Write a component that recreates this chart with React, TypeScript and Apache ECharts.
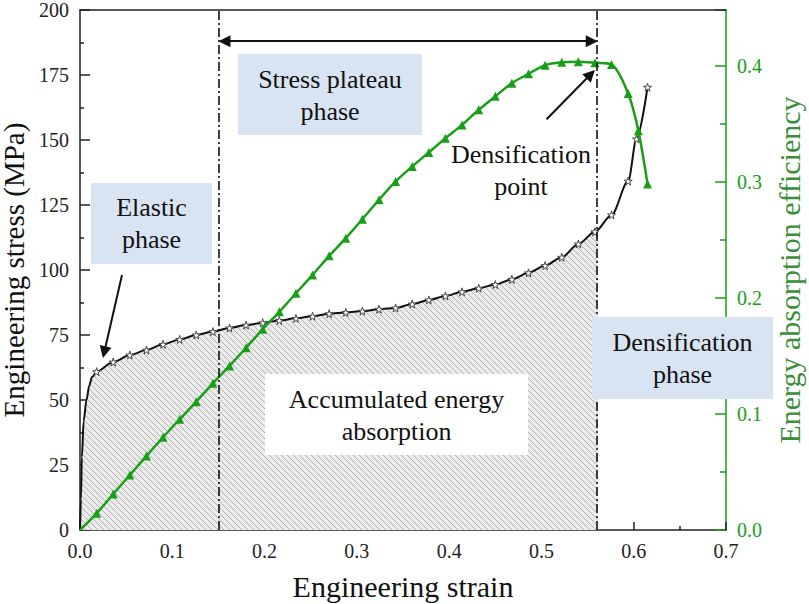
import React, { useEffect, useRef } from "react";
import * as echarts from "echarts";

// ---- data ----
// elastic part of the stress-strain curve (no markers)
const elasticStrain = [0, 0.001, 0.002, 0.004, 0.007, 0.01, 0.013];
const elasticStress = [0, 12, 28, 42, 50, 55.5, 58.8];
// marked points of the stress-strain curve
const markStrain = [
  0.018, 0.036, 0.054, 0.072, 0.09, 0.108, 0.126, 0.144, 0.162, 0.18, 0.198, 0.216, 0.234, 0.252,
  0.27, 0.288, 0.306, 0.324, 0.342, 0.36, 0.378, 0.396, 0.414, 0.432, 0.45, 0.468, 0.486, 0.504,
  0.522, 0.54, 0.558, 0.576, 0.594, 0.603, 0.615,
];
const markStress = [
  60.9, 64.6, 67.3, 69.2, 71.4, 73.3, 75.0, 76.3, 77.7, 78.8, 79.7, 80.6, 81.4, 82.2, 83.2, 83.7,
  84.2, 84.9, 85.4, 86.9, 88.5, 90.0, 91.6, 93.0, 94.4, 96.4, 98.9, 101.7, 104.9, 110.0, 114.7,
  121.2, 134.2, 150.4, 170.3,
];
// energy absorption efficiency
const effStrain = [
  0, 0.018, 0.036, 0.054, 0.072, 0.09, 0.108, 0.126, 0.144, 0.162, 0.18, 0.198, 0.216, 0.234, 0.252,
  0.27, 0.288, 0.306, 0.324, 0.342, 0.36, 0.378, 0.396, 0.414, 0.432, 0.45, 0.468, 0.486, 0.504,
  0.522, 0.54, 0.558, 0.576, 0.594, 0.605, 0.615,
];
const effValue = [
  0, 0.0144, 0.031, 0.0474, 0.0638, 0.0799, 0.0954, 0.1106, 0.1264, 0.1414, 0.157, 0.173, 0.188,
  0.204, 0.2198, 0.2362, 0.2514, 0.2678, 0.2845, 0.3003, 0.3132, 0.3253, 0.3376, 0.349, 0.362,
  0.3736, 0.385, 0.393, 0.4005, 0.403, 0.4035, 0.4025, 0.401, 0.376, 0.344, 0.298,
];
// phase boundaries
const plateauStart = 0.15;
const densificationStrain = 0.561;
const densificationStress = 115.8;
const arrowStress = 188;
const elasticArrow = [[0.0455, 98.1], [0.0263, 68.4]];
const densArrow = [[0.5056, 158], [0.5534, 175.3]];

const FONT = "Liberation Serif";
const STAR = "path://M50,0L61,35L98,35L68,57L79,91L50,70L21,91L32,57L2,35L39,35Z";
const GREEN = "#17a017";

function makeHatch(): string {
  const s = 6;
  const c = document.createElement("canvas");
  c.width = s;
  c.height = s;
  const ctx = c.getContext("2d")!;
  ctx.fillStyle = "#ebebeb";
  ctx.fillRect(0, 0, s, s);
  ctx.strokeStyle = "#b2b2b2";
  ctx.lineWidth = 1;
  ctx.beginPath();
  ctx.moveTo(-1, -1);
  ctx.lineTo(s + 1, s + 1);
  ctx.moveTo(-1, s - 1);
  ctx.lineTo(1, s + 1);
  ctx.moveTo(s - 1, -1);
  ctx.lineTo(s + 1, 1);
  ctx.stroke();
  return c.toDataURL();
}

function textEl(text: string, x: number, y: number) {
  return {
    type: "text",
    x,
    y,
    z: 101,
    style: {
      text,
      fontSize: 26,
      fontFamily: FONT,
      fill: "#111",
      align: "center",
      verticalAlign: "middle",
      textAlign: "center",
      textVerticalAlign: "middle",
      lineHeight: 32,
    },
  };
}

function boxEl(x: number, y: number, w: number, h: number, fill: string) {
  return { type: "rect", z: 100, shape: { x, y, width: w, height: h }, style: { fill } };
}

export default function App() {
  const ref = useRef<HTMLDivElement>(null);
  useEffect(() => {
    if (!ref.current) return;
    const chart = echarts.init(ref.current, null, { renderer: "svg" });

    const blackData: any[] = [];
    elasticStrain.forEach((x, i) => blackData.push({ value: [x, elasticStress[i]], symbol: "none" }));
    markStrain.forEach((x, i) => blackData.push({ value: [x, markStress[i]] }));

    const areaData: number[][] = [];
    elasticStrain.forEach((x, i) => areaData.push([x, elasticStress[i]]));
    markStrain.forEach((x, i) => {
      if (x <= densificationStrain) areaData.push([x, markStress[i]]);
    });
    areaData.push([densificationStrain, densificationStress]);

    const greenData: any[] = effStrain.map((x, i) =>
      i === 0 ? { value: [x, effValue[i]], symbol: "none" } : { value: [x, effValue[i]] }
    );

    const axisColor = "#222";
    const labelStyle = { fontSize: 20, fontFamily: FONT, color: axisColor };

    chart.setOption({
      animation: false,
      textStyle: { fontFamily: FONT },
      grid: { left: 80, right: 83, top: 10, bottom: 74, containLabel: false, outerBoundsMode: "none" },
      xAxis: [
        {
          type: "value",
          position: "bottom",
          min: 0,
          max: 0.7,
          interval: 0.1,
          axisLine: { show: true, onZero: false, lineStyle: { color: axisColor, width: 1.5 } },
          axisTick: { show: true, inside: true, length: 8, lineStyle: { color: axisColor, width: 1.5 } },
          minorTick: { show: true, splitNumber: 2, length: 4, lineStyle: { color: axisColor, width: 1.5 } },
          splitLine: { show: false },
          axisLabel: { ...labelStyle, margin: 11, formatter: (v: number) => v.toFixed(1) },
          name: "Engineering strain",
          nameLocation: "middle",
          nameGap: 41,
          nameTextStyle: { fontSize: 30, fontFamily: FONT, color: "#111" },
        },
        {
          type: "value",
          position: "top",
          min: 0,
          max: 0.7,
          z: 10,
          axisLine: { show: true, onZero: false, lineStyle: { color: axisColor, width: 1.5 } },
          axisTick: { show: false },
          axisLabel: { show: false },
          splitLine: { show: false },
        },
      ],
      yAxis: [
        {
          type: "value",
          position: "left",
          min: 0,
          max: 200,
          interval: 25,
          axisLine: { show: true, onZero: false, lineStyle: { color: axisColor, width: 1.5 } },
          axisTick: { show: true, inside: true, length: 10, lineStyle: { color: axisColor, width: 1.5 } },
          minorTick: { show: true, splitNumber: 2, length: 4, lineStyle: { color: axisColor, width: 1.5 } },
          splitLine: { show: false },
          axisLabel: { ...labelStyle, margin: 11 },
          name: "Engineering stress (MPa)",
          nameLocation: "middle",
          nameGap: 42,
          nameTextStyle: { fontSize: 29, fontFamily: FONT, color: "#111" },
        },
        {
          type: "value",
          position: "right",
          min: 0,
          max: 0.448,
          interval: 0.1,
          axisLine: { show: true, onZero: false, lineStyle: { color: GREEN, width: 1.5 } },
          axisTick: { show: true, inside: true, length: 11, lineStyle: { color: GREEN, width: 1.5 } },
          minorTick: { show: true, splitNumber: 2, length: 6, lineStyle: { color: GREEN, width: 1.5 } },
          splitLine: { show: false },
          axisLabel: {
            fontSize: 20,
            fontFamily: FONT,
            color: GREEN,
            margin: 11,
            formatter: (v: number) => (Math.abs(v * 10 - Math.round(v * 10)) < 1e-6 ? v.toFixed(1) : ""),
          },
          name: "Energy absorption efficiency",
          nameLocation: "middle",
          nameGap: 48,
          nameTextStyle: { fontSize: 30, fontFamily: FONT, color: "#3a8e3a" },
        },
      ],
      series: [
        {
          name: "area",
          type: "line",
          xAxisIndex: 0,
          yAxisIndex: 0,
          data: areaData,
          smooth: 0.3,
          smoothMonotone: "x",
          symbol: "none",
          lineStyle: { width: 0, opacity: 0 },
          areaStyle: {
            opacity: 1,
            color: { image: makeHatch(), repeat: "repeat", imageWidth: 6, imageHeight: 6 },
          },
          z: 1,
          silent: true,
          markLine: {
            silent: true,
            symbol: ["none", "none"],
            label: { show: false },
            lineStyle: { color: "#111", width: 1.6, type: [9, 3, 2, 3] },
            data: [{ xAxis: plateauStart }, { xAxis: densificationStrain }],
          },
        },
        {
          name: "arrows",
          type: "line",
          xAxisIndex: 0,
          yAxisIndex: 0,
          data: [],
          z: 5,
          markLine: {
            silent: true,
            symbol: ["triangle", "triangle"],
            symbolSize: 12,
            label: { show: false },
            lineStyle: { color: "#111", width: 2, type: "solid" },
            data: [
              [
                { coord: [plateauStart + 0.0065, arrowStress] },
                { coord: [densificationStrain - 0.0065, arrowStress] },
              ],
              [
                { coord: elasticArrow[0], symbol: "none" },
                { coord: elasticArrow[1], symbol: "triangle" },
              ],
              [
                { coord: densArrow[0], symbol: "none" },
                { coord: densArrow[1], symbol: "triangle" },
              ],
            ],
          },
        },
        {
          name: "stress",
          type: "line",
          xAxisIndex: 0,
          yAxisIndex: 0,
          data: blackData,
          smooth: 0.3,
          smoothMonotone: "x",
          symbol: STAR,
          symbolSize: 8,
          showAllSymbol: true,
          lineStyle: { color: "#111", width: 2 },
          itemStyle: { color: "#ffffff", borderColor: "#444", borderWidth: 1 },
          z: 3,
        },
        {
          name: "efficiency",
          type: "line",
          xAxisIndex: 0,
          yAxisIndex: 1,
          data: greenData,
          smooth: 0.3,
          symbol: "triangle",
          symbolSize: 9,
          showAllSymbol: true,
          lineStyle: { color: GREEN, width: 2.5 },
          itemStyle: { color: GREEN },
          z: 4,
        },
      ],
      graphic: [
        boxEl(91, 183, 121, 81, "#d9e4f2"),
        textEl("Elastic\nphase", 151.5, 223.5),
        boxEl(238, 54, 184, 81, "#d9e4f2"),
        textEl("Stress plateau\nphase", 330, 95),
        boxEl(592, 317, 181, 82, "#d9e4f2"),
        textEl("Densification\nphase", 682.5, 358.5),
        boxEl(265, 374, 263, 81, "#ffffff"),
        textEl("Accumulated energy\nabsorption", 396.5, 415),
        textEl("Densification\npoint", 521, 170),
      ],
    });
    return () => chart.dispose();
  }, []);
  return (
    <div
      ref={ref}
      style={{ position: "fixed", left: 0, top: 0, width: 809, height: 604, background: "#fff" }}
    />
  );
}
